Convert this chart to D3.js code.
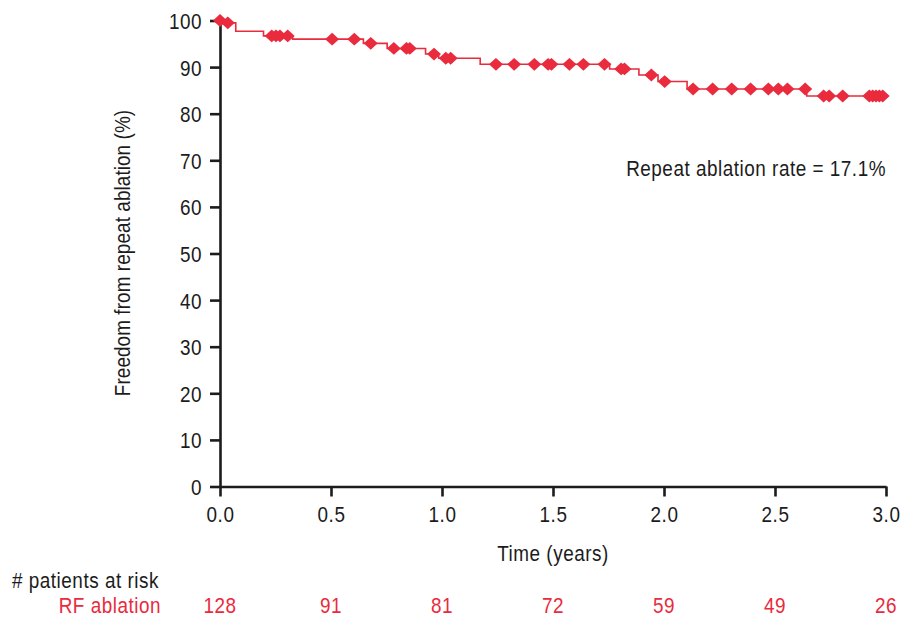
<!DOCTYPE html>
<html>
<head>
<meta charset="utf-8">
<script src="https://cdn.jsdelivr.net/npm/d3@7"></script>
<style>
  body { margin: 0; background: #fff; }
  text { font-family: "Liberation Sans", Arial, sans-serif; font-size: 22px; letter-spacing: 0.6px; fill: #1c1c1c; }
</style>
</head>
<body>
<script>
// Kaplan-Meier: freedom from repeat ablation
const stepTimes = [0, 0.012, 0.071, 0.196, 0.327, 0.646, 0.753, 0.926, 0.985, 1.172, 1.755, 1.887, 1.973, 2.104, 2.643];
const stepSurvival = [100, 99.5, 97.7, 96.7, 96.0, 95.1, 94.0, 92.8, 91.9, 90.6, 89.6, 88.3, 86.9, 85.3, 83.8];
const curveEnd = 2.99;
const censorTimes = [0, 0.035, 0.233, 0.252, 0.27, 0.305, 0.505, 0.605, 0.679, 0.783, 0.84, 0.855,
  0.964, 1.017, 1.039, 1.243, 1.325, 1.416, 1.478, 1.493, 1.574, 1.637, 1.732, 1.807, 1.822,
  1.943, 2.003, 2.131, 2.219, 2.305, 2.39, 2.47, 2.515, 2.556, 2.636, 2.719, 2.744, 2.805,
  2.925, 2.94, 2.955, 2.97, 2.985];
const xTicks = [0, 0.5, 1, 1.5, 2, 2.5, 3];
const yTicks = [0, 10, 20, 30, 40, 50, 60, 70, 80, 90, 100];
const atRisk = [128, 91, 81, 72, 59, 49, 26];
const groupName = 'RF ablation';

const red = '#ea2a3d';
const narrow = 0.86; // squeeze the sans to look like a condensed face
const svgWidth = 902;
const svgHeight = 623;
const margin = { left: 220, top: 20.5 };
const width = 666;
const height = 466;

const root = d3.select('body').append('svg')
  .attr('width', svgWidth)
  .attr('height', svgHeight);

const svg = root.append('g')
  .attr('transform', `translate(${margin.left}, ${margin.top})`);

const xScale = d3.scaleLinear().domain([0, 3]).range([0, width]);
const yScale = d3.scaleLinear().domain([0, 100]).range([height, 0]);

createAxes();
plotCurve();
addLabels();

// move x/y into a transform so the horizontal squeeze does not shift the text
function condense(sel, extra = '') {
  sel.each(function () {
    const t = d3.select(this);
    const x = +t.attr('x') || 0;
    const y = +t.attr('y') || 0;
    t.attr('x', null).attr('y', null)
      .attr('transform', `translate(${x}, ${y}) ${extra} scale(${narrow}, 1)`);
  });
}

function createAxes() {
  const xAxis = d3.axisBottom(xScale)
    .tickValues(xTicks)
    .tickFormat(d3.format('.1f'))
    .tickSize(10)
    .tickSizeOuter(0)
    .tickPadding(10);
  const gx = svg.append('g')
    .attr('transform', `translate(0, ${height})`)
    .call(xAxis);

  const yAxis = d3.axisLeft(yScale)
    .tickValues(yTicks)
    .tickSize(10)
    .tickSizeOuter(0)
    .tickPadding(8);
  const gy = svg.append('g').call(yAxis);

  [gx, gy].forEach((g) => {
    g.attr('font-size', null).attr('font-family', null);
    g.select('.domain').attr('stroke', '#1c1c1c').attr('stroke-width', 2.6);
    g.selectAll('.tick line').attr('stroke', '#1c1c1c').attr('stroke-width', 2.6);
  });
  gx.selectAll('.tick text').attr('dy', '0.71em').call(condense);
  gy.selectAll('.tick text').attr('dy', '0.36em').call(condense);
}

function survivalAt(t) {
  const i = d3.bisectRight(stepTimes, t) - 1;
  return stepSurvival[Math.max(i, 0)];
}

function plotCurve() {
  const points = stepTimes.map((t, i) => [t, stepSurvival[i]]);
  points.push([curveEnd, stepSurvival[stepSurvival.length - 1]]);

  const line = d3.line()
    .x(d => xScale(d[0]))
    .y(d => yScale(d[1]))
    .curve(d3.curveStepAfter);

  svg.append('path')
    .datum(points)
    .attr('fill', 'none')
    .attr('stroke', red)
    .attr('stroke-width', 1.6)
    .attr('d', line);

  // censor marks
  const diamond = 'M0,-6.4L7,0L0,6.4L-7,0Z';
  svg.selectAll('.censor')
    .data(censorTimes)
    .enter()
    .append('path')
    .attr('class', 'censor')
    .attr('d', diamond)
    .attr('fill', red)
    .attr('transform', d => `translate(${xScale(d)}, ${yScale(survivalAt(d))})`);
}

function addLabels() {
  root.append('text')
    .attr('x', 130)
    .attr('y', 253)
    .attr('text-anchor', 'middle')
    .style('letter-spacing', '0.1px')
    .text('Freedom from repeat ablation (%)')
    .call(condense, 'rotate(-90)');

  root.append('text')
    .attr('x', margin.left + width / 2)
    .attr('y', 561)
    .attr('text-anchor', 'middle')
    .text('Time (years)')
    .call(condense);

  root.append('text')
    .attr('x', 886)
    .attr('y', 176)
    .attr('text-anchor', 'end')
    .text('Repeat ablation rate = 17.1%')
    .call(condense);

  root.append('text')
    .attr('x', 12)
    .attr('y', 588)
    .text('# patients at risk')
    .call(condense);

  root.append('text')
    .attr('x', 161)
    .attr('y', 612.5)
    .attr('text-anchor', 'end')
    .style('fill', red)
    .text(groupName)
    .call(condense);

  root.selectAll('.risk')
    .data(atRisk)
    .enter()
    .append('text')
    .attr('class', 'risk')
    .attr('x', (d, i) => margin.left + xScale(xTicks[i]))
    .attr('y', 612.5)
    .attr('text-anchor', 'middle')
    .style('fill', red)
    .text(d => d)
    .call(condense);
}
</script>
</body>
</html>
